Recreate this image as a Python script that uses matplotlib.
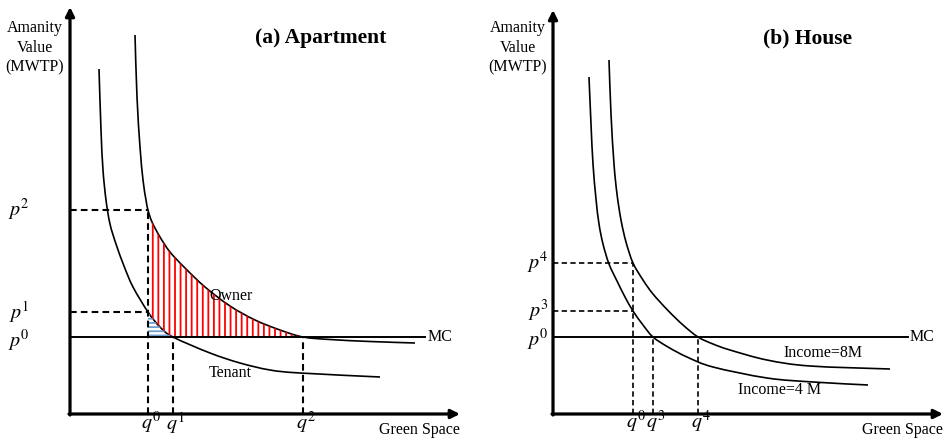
import numpy as np
import matplotlib
matplotlib.use("Agg")
import matplotlib.pyplot as plt
from matplotlib.path import Path
from matplotlib.patches import PathPatch

plt.rcParams['font.family'] = ['Liberation Serif', 'DejaVu Serif']
plt.rcParams['mathtext.fontset'] = 'stix'
plt.rcParams['hatch.linewidth'] = 1.3

# panel (a) apartment (x: green space, y: MWTP)
owner_x = [65, 67, 70, 73, 76, 78, 82, 90, 100, 115, 135, 160, 185, 210, 233, 260, 300, 345]
owner_y = [379, 317, 267, 234, 214, 204, 192, 177, 162, 146, 127, 108, 94, 84, 77, 74.5, 72.5, 71]
tenant_x = [29, 31, 33, 36, 40, 46, 54, 63, 78, 90, 103, 140, 170, 200, 230, 310]
tenant_y = [345, 284, 244, 214, 190, 170, 148, 127, 102, 87, 77, 61, 51, 44, 41, 37]
a_q = {'q^0': 78, 'q^1': 103, 'q^2': 233}
a_p = {'p^0': 77, 'p^1': 102, 'p^2': 204}

# panel (b) house
inc4_x = [36, 38, 40, 43, 46, 50, 56, 64, 72, 80, 90, 100, 115, 134, 160, 214, 260, 315]
inc4_y = [337, 290, 250, 215, 190, 170, 150, 133, 117, 103, 89, 77, 67, 57, 47, 36, 32, 29]
inc8_x = [56, 58, 61, 64, 68, 73, 80, 90, 100, 115, 130, 145, 160, 177, 214, 257, 337]
inc8_y = [354, 300, 250, 220, 194, 172, 151, 134, 120, 103.5, 89, 77, 70, 64, 54, 48, 45]
b_q = {'q^0': 80, 'q^3': 100, 'q^4': 145}
b_p = {'p^0': 77, 'p^3': 103, 'p^4': 151}

mc = 77

fig = plt.figure(figsize=(9.48, 4.4), dpi=100)


def make_axes(x0):
    ax = fig.add_axes([0, 0, 1, 1])
    ax.set_xlim(-x0, 948 - x0)
    ax.set_ylim(-26, 414)
    ax.axis('off')
    ax.patch.set_alpha(0)
    return ax


def curve_path(xs, ys):
    # smooth bezier through the read points (catmull-rom style handles)
    pts = np.column_stack([xs, ys]).astype(float)
    verts = [pts[0]]
    codes = [Path.MOVETO]
    n = len(pts)
    for i in range(n - 1):
        a = pts[i - 1] if i > 0 else pts[i]
        b = pts[i]
        c = pts[i + 1]
        d = pts[i + 2] if i + 2 < n else pts[i + 1]
        verts += [b + (c - a) / 6, c - (d - b) / 6, c]
        codes += [Path.CURVE4] * 3
    return Path(verts, codes)


def draw_curve(ax, xs, ys):
    path = curve_path(xs, ys)
    ax.add_patch(PathPatch(path, fill=False, edgecolor='black', lw=1.2))
    return path.to_polygons(closed_only=False)[0]


def draw_axes(ax, xtip, ytip):
    arrow = dict(arrowstyle='-|>', lw=2.3, color='black', mutation_scale=13,
                 shrinkA=0, shrinkB=0)
    ax.annotate('', xy=(0, ytip), xytext=(0, -1), arrowprops=arrow)
    ax.annotate('', xy=(xtip, 0), xytext=(-1, 0), arrowprops=arrow)
    ax.text(-35, 366, 'Amanity\nValue\n(MWTP)', ha='center', va='center',
            fontsize=11.5, linespacing=1.3)
    ax.text(390, -16, 'Green Space', ha='right', va='center', fontsize=11.5)


dash = dict(color='black', ls=(0, (3.2, 2.0)), lw=1.5)

# ---------------- (a) Apartment ----------------
ax1 = make_axes(70)
draw_axes(ax1, 390, 407)
own = draw_curve(ax1, owner_x, owner_y)
ten = draw_curve(ax1, tenant_x, tenant_y)
ax1.plot([0, 355], [mc, mc], color='black', lw=1.4)
ax1.text(358, mc, 'MC', ha='left', va='center', fontsize=11.5)

q0, q1, q2 = a_q['q^0'], a_q['q^1'], a_q['q^2']
p1, p2 = a_p['p^1'], a_p['p^2']

# shaded areas between the curves
m_o = (own[:, 0] >= q0) & (own[:, 0] <= q2)
m_t = (ten[:, 0] >= q0) & (ten[:, 0] <= q1)
red = np.vstack([own[m_o], [[q2, mc], [q1, mc]], ten[m_t][::-1]])
ax1.fill(red[:, 0], red[:, 1], facecolor='none', edgecolor='red',
         hatch='|||', lw=0)
blue = np.vstack([[[q0, mc]], ten[m_t], [[q1, mc]]])
ax1.fill(blue[:, 0], blue[:, 1], facecolor='none', edgecolor='#6f9fd0',
         hatch='----', lw=0)

ax1.plot([0, q0], [p2, p2], **dash)
ax1.plot([0, q0], [p1, p1], **dash)
ax1.plot([q0, q0], [0, p2], **dash)
ax1.plot([q1, q1], [0, mc], **dash)
ax1.plot([q2, q2], [0, mc], **dash)

for lab, yv in a_p.items():
    off = -4 if lab == 'p^0' else 0
    ax1.text(-40, yv + off, '$' + lab + '$', ha='right', va='center', fontsize=14.5)
for lab, xv in a_q.items():
    ax1.text(xv - 7, -9, '$' + lab + '$', ha='left', va='center', fontsize=14.5)

ax1.text(161, 118, 'Owner', ha='center', va='center', fontsize=11.5)
ax1.text(160, 41, 'Tenant', ha='center', va='center', fontsize=11.5)
ax1.text(251, 376, '(a) Apartment', ha='center', va='center', fontsize=15.5,
         fontweight='bold')

# ---------------- (b) House ----------------
ax2 = make_axes(553)
draw_axes(ax2, 390, 404)
draw_curve(ax2, inc4_x, inc4_y)
draw_curve(ax2, inc8_x, inc8_y)
ax2.plot([0, 355], [mc, mc], color='black', lw=1.4)
ax2.text(357, mc, 'MC', ha='left', va='center', fontsize=11.5)

bq0, bq3, bq4 = b_q['q^0'], b_q['q^3'], b_q['q^4']
p3, p4 = b_p['p^3'], b_p['p^4']
thin = dict(dash, lw=1.2)
ax2.plot([0, bq0], [p4, p4], **thin)
ax2.plot([0, bq0], [p3, p3], **thin)
ax2.plot([bq0, bq0], [0, p4], **thin)
ax2.plot([bq3, bq3], [0, mc], **thin)
ax2.plot([bq4, bq4], [0, mc], **thin)

for lab, yv in b_p.items():
    off = -3 if lab == 'p^0' else 0
    ax2.text(-4, yv + off, '$' + lab + '$', ha='right', va='center', fontsize=14.5)
for lab, xv in b_q.items():
    ax2.text(xv - 7, -8, '$' + lab + '$', ha='left', va='center', fontsize=14.5)

ax2.text(270, 61, 'Income=8M', ha='center', va='center', fontsize=11.5)
ax2.text(227, 24, 'Income=4 M', ha='center', va='center', fontsize=11.5)
ax2.text(255, 376, '(b) House', ha='center', va='center', fontsize=15.5,
         fontweight='bold')

fig.savefig('out.png', dpi=100)
